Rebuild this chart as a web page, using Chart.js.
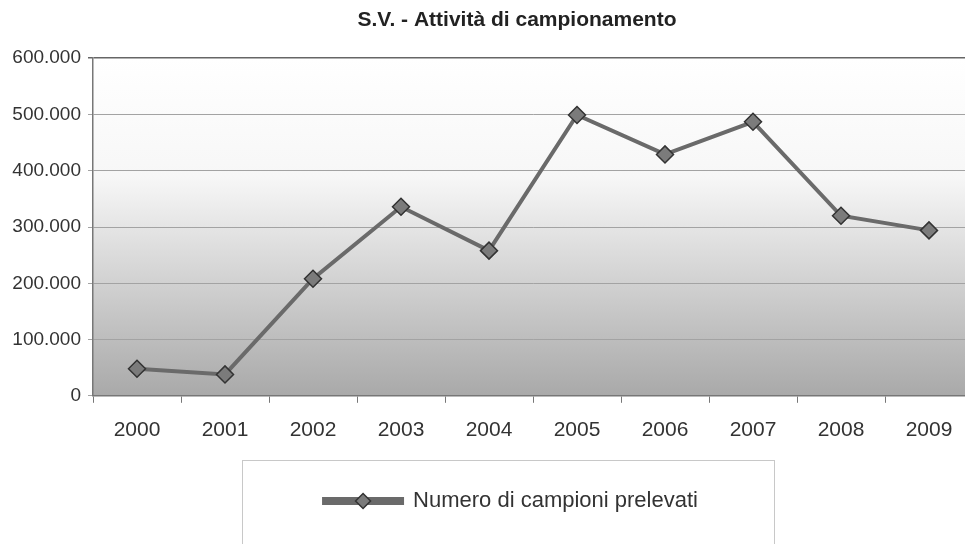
<!DOCTYPE html>
<html>
<head>
<meta charset="utf-8">
<script src="https://cdn.jsdelivr.net/npm/chart.js@4"></script>
<style>
    html, body { margin: 0; padding: 0; background: #fff; overflow: hidden; }
    /* the plot in the original runs slightly past the right edge of the picture */
    #wrap { width: 973px; height: 544px; }
</style>
</head>
<body>
<div id="wrap"><canvas id="chart"></canvas></div>
<script>
// Chart data
const years = ['2000', '2001', '2002', '2003', '2004', '2005', '2006', '2007', '2008', '2009'];
const campioni = [48000, 38000, 208000, 336000, 258000, 499000, 429000, 487000, 320000, 294000];
const yTicks = [0, 100000, 200000, 300000, 400000, 500000, 600000];

const titleText = 'S.V. - Attività di campionamento';
const seriesName = 'Numero di campioni prelevati';

// Italian thousands separator
function formatIt(v) {
    return String(v).replace(/\B(?=(\d{3})+(?!\d))/g, '.');
}

// Grey gradient behind the plot area
const plotBackground = {
    id: 'plotBackground',
    beforeDraw(chart) {
        const { ctx, chartArea: a } = chart;
        const g = ctx.createLinearGradient(0, a.top, 0, a.bottom);
        g.addColorStop(0, '#ffffff');
        g.addColorStop(0.35, '#f7f7f7');
        g.addColorStop(1, '#a9a9a9');
        ctx.save();
        ctx.fillStyle = g;
        ctx.fillRect(a.left, a.top, a.right - a.left, a.bottom - a.top);
        ctx.restore();
    }
};

// The original centres title and legend a bit right of the page centre
const shiftBoxes = {
    id: 'shiftBoxes',
    afterLayout(chart) {
        const move = (box, centre) => {
            if (!box) return;
            const d = centre - (box.left + box.right) / 2;
            box.left += d;
            box.right += d;
        };
        move(chart.titleBlock, 517);
        move(chart.legend, 511);
    }
};

// Frame around the legend and a diamond on its line sample
const legendDecor = {
    id: 'legendDecor',
    afterDraw(chart) {
        const lg = chart.legend;
        if (!lg || !lg.legendHitBoxes.length) return;
        const hb = lg.legendHitBoxes[0];
        const ctx = chart.ctx;
        const bw = lg.options.labels.boxWidth;
        const cx = hb.left + bw / 2;
        const cy = hb.top + hb.height / 2;

        ctx.save();
        ctx.strokeStyle = '#c8c8c8';
        ctx.lineWidth = 1;
        ctx.strokeRect(242.5, 460.5, 532, 100);

        const r = 7.5;
        ctx.beginPath();
        ctx.moveTo(cx - r, cy);
        ctx.lineTo(cx, cy - r);
        ctx.lineTo(cx + r, cy);
        ctx.lineTo(cx, cy + r);
        ctx.closePath();
        ctx.fillStyle = '#7b7b7b';
        ctx.fill();
        ctx.strokeStyle = '#333';
        ctx.lineWidth = 1.5;
        ctx.stroke();
        ctx.restore();
    }
};

const ctx = document.getElementById('chart').getContext('2d');
new Chart(ctx, {
    type: 'line',
    data: {
        labels: years,
        datasets: [{
            label: seriesName,
            data: campioni,
            borderColor: '#6a6a6a',
            backgroundColor: '#6a6a6a',
            borderWidth: 4,
            pointStyle: 'rectRot',
            pointRadius: 8.5,
            pointBackgroundColor: '#7b7b7b',
            pointBorderColor: '#333',
            pointBorderWidth: 1.5,
            tension: 0
        }]
    },
    options: {
        responsive: true,
        maintainAspectRatio: false,
        animation: false,
        layout: { autoPadding: false, padding: { left: 0, right: 0, top: 0, bottom: 22 } },
        plugins: {
            title: {
                display: true,
                text: titleText,
                color: '#222',
                font: { family: "'Liberation Sans', Arial, sans-serif", size: 21, weight: 'bold' },
                padding: { top: 8, bottom: 25 }
            },
            legend: {
                position: 'bottom',
                labels: {
                    color: '#333',
                    font: { family: "'Liberation Sans', Arial, sans-serif", size: 22 },
                    boxWidth: 78,
                    boxHeight: 4,
                    padding: 14
                }
            },
            tooltip: { enabled: false }
        },
        scales: {
            x: {
                offset: true,
                afterFit(scale) {
                    scale.paddingLeft = 0;
                    scale.paddingRight = 0;
                    scale.height += 18;
                },
                grid: {
                    offset: true,
                    drawOnChartArea: false,
                    tickLength: 7,
                    color: '#777'
                },
                border: { color: '#777', width: 1.5 },
                ticks: {
                    color: '#333',
                    padding: 15,
                    font: { family: "'Liberation Sans', Arial, sans-serif", size: 21 }
                }
            },
            y: {
                min: 0,
                max: 600000,
                afterBuildTicks(scale) {
                    scale.ticks = yTicks.map(v => ({ value: v }));
                },
                afterFit(scale) {
                    scale.width = 93;
                },
                grid: {
                    color: ctx => ctx.tick && ctx.tick.value === 600000 ? '#666' : '#a3a3a3',
                    lineWidth: ctx => ctx.tick && ctx.tick.value === 600000 ? 1.5 : 1,
                    tickLength: 5
                },
                border: { color: '#777', width: 1.5 },
                ticks: {
                    color: '#333',
                    padding: 7,
                    font: { family: "'Liberation Sans', Arial, sans-serif", size: 19 },
                    callback: v => formatIt(v)
                }
            }
        }
    },
    plugins: [plotBackground, shiftBoxes, legendDecor]
});
</script>
</body>
</html>
